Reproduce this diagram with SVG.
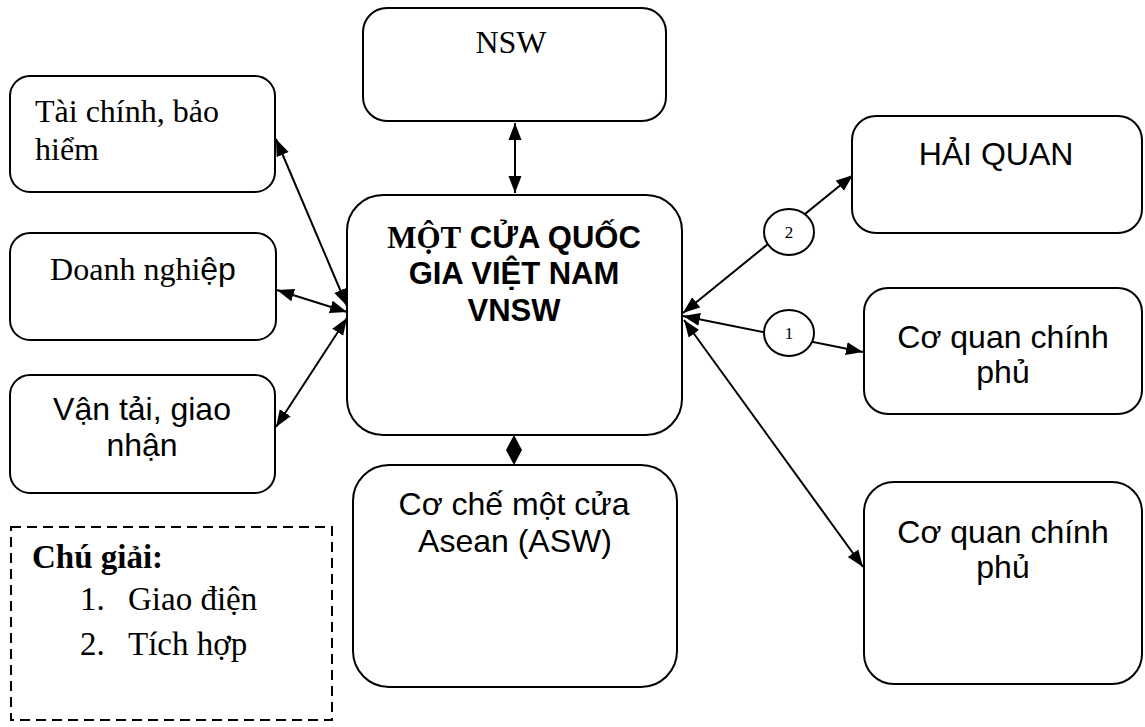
<svg xmlns="http://www.w3.org/2000/svg" width="1145" height="727" viewBox="0 0 1145 727">
<style>
.box{fill:#fff;stroke:#000;stroke-width:2}
.ln{stroke:#000;stroke-width:2;fill:none}
.tr{font-family:"Liberation Serif","Times New Roman",serif;font-size:32px;fill:#000}
.lg{font-family:"Liberation Serif","Times New Roman",serif;font-size:33px;fill:#000}
.ar{font-family:"Liberation Sans",Arial,sans-serif;font-size:32px;fill:#000}
.bd{font-family:"Liberation Sans",Arial,sans-serif;font-size:31px;font-weight:bold;fill:#000}
.num{font-family:"Liberation Serif","Times New Roman",serif;font-size:17px;fill:#000}
</style>
<defs>
<marker id="ah" markerUnits="userSpaceOnUse" markerWidth="18" markerHeight="14" refX="17" refY="6.5" orient="auto-start-reverse" viewBox="0 0 18 13">
<path d="M0,0 L17,6.5 L0,13 z" fill="#000"/>
</marker>
</defs>
<g id="connectors">
<line class="ln" x1="515" y1="123" x2="515" y2="193" marker-start="url(#ah)" marker-end="url(#ah)"/>
<line class="ln" x1="276" y1="139" x2="347" y2="306" marker-start="url(#ah)" marker-end="url(#ah)"/>
<line class="ln" x1="277" y1="290" x2="347" y2="312" marker-start="url(#ah)" marker-end="url(#ah)"/>
<line class="ln" x1="276" y1="427" x2="347" y2="318" marker-start="url(#ah)" marker-end="url(#ah)"/>
<line class="ln" x1="683" y1="313" x2="853" y2="175" marker-start="url(#ah)" marker-end="url(#ah)"/>
<line class="ln" x1="683" y1="316" x2="863" y2="352" marker-start="url(#ah)" marker-end="url(#ah)"/>
<line class="ln" x1="684" y1="320" x2="863" y2="567" marker-start="url(#ah)" marker-end="url(#ah)"/>
<polygon points="514,435 522,450 514,465 506,450" fill="#000"/>
</g>
<g id="nsw">
<rect class="box" x="363" y="8" width="303" height="113" rx="24"/>
<text class="tr" x="511" y="53" text-anchor="middle">NSW</text>
</g>
<g id="taichinh">
<rect class="box" x="10" y="76" width="265" height="116" rx="20"/>
<text class="tr" x="35" y="122">Tài chính, bảo</text>
<text class="tr" x="35" y="160">hiểm</text>
</g>
<g id="doanhnghiep">
<rect class="box" x="10" y="233" width="266" height="107" rx="20"/>
<text class="tr" x="143" y="280" text-anchor="middle">Doanh nghi<tspan font-family="Liberation Sans, Arial, sans-serif">ệp</tspan></text>
</g>
<g id="vantai">
<rect class="box" x="10" y="375" width="265" height="118" rx="20"/>
<text class="ar" x="142" y="420" text-anchor="middle">Vận tải, giao</text>
<text class="ar" x="142" y="456" text-anchor="middle">nhận</text>
</g>
<g id="vnsw">
<rect class="box" x="347" y="195" width="335" height="240" rx="36"/>
<text class="bd" x="514" y="248" text-anchor="middle"><tspan font-family="Liberation Serif, Times New Roman, serif">MỘT</tspan> CỬA QUỐC</text>
<text class="bd" x="514" y="284" text-anchor="middle">GIA VIỆT NAM</text>
<text class="bd" x="514" y="321" text-anchor="middle">VNSW</text>
</g>
<g id="asw">
<rect class="box" x="353" y="465" width="324" height="222" rx="36"/>
<text class="ar" x="514" y="515" text-anchor="middle">Cơ chế một cửa</text>
<text class="ar" x="515" y="552" text-anchor="middle">Asean (ASW)</text>
</g>
<g id="haiquan">
<rect class="box" x="852" y="116" width="290" height="117" rx="24"/>
<text class="ar" x="996" y="165" text-anchor="middle">HẢI QUAN</text>
</g>
<g id="coquan1">
<rect class="box" x="864" y="288" width="278" height="126" rx="24"/>
<text class="ar" x="1003" y="348" text-anchor="middle">Cơ quan chính</text>
<text class="ar" x="1003" y="383" text-anchor="middle">phủ</text>
</g>
<g id="coquan2">
<rect class="box" x="864" y="482" width="278" height="202" rx="30"/>
<text class="ar" x="1003" y="543" text-anchor="middle">Cơ quan chính</text>
<text class="ar" x="1003" y="578" text-anchor="middle">phủ</text>
</g>
<g id="circle2">
<ellipse class="box" cx="789" cy="232" rx="25" ry="23"/>
<text class="num" x="789" y="238" text-anchor="middle">2</text>
</g>
<g id="circle1">
<ellipse class="box" cx="789" cy="333" rx="25" ry="23"/>
<text class="num" x="789" y="339" text-anchor="middle">1</text>
</g>
<g id="legend">
<rect x="11" y="527" width="321" height="193" fill="none" stroke="#000" stroke-width="2" stroke-dasharray="10,6"/>
<text class="lg" x="32" y="568" font-weight="bold" font-size="32">Chú giải:</text>
<text class="lg" x="80" y="610">1.</text>
<text class="lg" x="128" y="610">Giao điện</text>
<text class="lg" x="80" y="655">2.</text>
<text class="lg" x="128" y="655">Tích hợp</text>
</g>
</svg>
